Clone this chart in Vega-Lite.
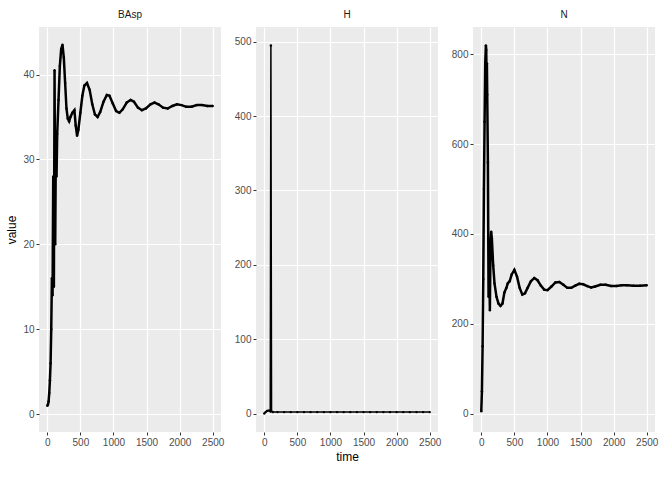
{
  "$schema": "https://vega.github.io/schema/vega-lite/v6.json",
  "padding": {"left": 5, "top": 10, "right": 5, "bottom": 5},
  "datasets": {
    "BAsp": [
      {"t":0,"v":1},{"t":10,"v":1.1},{"t":20,"v":1.5},{"t":30,"v":2.5},{"t":40,"v":4},{"t":50,"v":6},{"t":60,"v":10},{"t":70,"v":16},{"t":80,"v":14},{"t":90,"v":28},{"t":100,"v":15},{"t":110,"v":40.5},{"t":120,"v":20},{"t":130,"v":32},{"t":140,"v":28},{"t":150,"v":33},{"t":170,"v":37},{"t":190,"v":41},{"t":210,"v":43},{"t":230,"v":43.5},{"t":250,"v":42},{"t":270,"v":39},{"t":290,"v":36},{"t":310,"v":34.8},{"t":330,"v":34.5},{"t":350,"v":35},{"t":380,"v":35.5},{"t":410,"v":35.8},{"t":430,"v":34},{"t":450,"v":32.8},{"t":470,"v":33.5},{"t":500,"v":35.5},{"t":530,"v":37.5},{"t":560,"v":38.7},{"t":600,"v":39},{"t":640,"v":38.2},{"t":680,"v":36.5},{"t":720,"v":35.3},{"t":760,"v":35},{"t":800,"v":35.6},{"t":850,"v":36.8},{"t":900,"v":37.6},{"t":940,"v":37.5},{"t":990,"v":36.6},{"t":1040,"v":35.7},{"t":1090,"v":35.5},{"t":1140,"v":35.9},{"t":1200,"v":36.7},{"t":1260,"v":37},{"t":1310,"v":36.8},{"t":1370,"v":36.1},{"t":1430,"v":35.8},{"t":1490,"v":36},{"t":1560,"v":36.5},{"t":1620,"v":36.7},{"t":1680,"v":36.5},{"t":1750,"v":36.1},{"t":1820,"v":36},{"t":1890,"v":36.3},{"t":1960,"v":36.5},{"t":2030,"v":36.4},{"t":2100,"v":36.2},{"t":2180,"v":36.2},{"t":2260,"v":36.4},{"t":2340,"v":36.4},{"t":2420,"v":36.3},{"t":2500,"v":36.3}
    ],
    "H": [
      {"t":0,"v":0},{"t":20,"v":2},{"t":40,"v":3.5},{"t":60,"v":4},{"t":80,"v":4},{"t":90,"v":3},{"t":100,"v":495},{"t":110,"v":3},{"t":130,"v":2},{"t":200,"v":2},{"t":300,"v":2},{"t":400,"v":2},{"t":500,"v":2},{"t":600,"v":2},{"t":700,"v":2},{"t":800,"v":2},{"t":900,"v":2},{"t":1000,"v":2},{"t":1100,"v":2},{"t":1200,"v":2},{"t":1300,"v":2},{"t":1400,"v":2},{"t":1500,"v":2},{"t":1600,"v":2},{"t":1700,"v":2},{"t":1800,"v":2},{"t":1900,"v":2},{"t":2000,"v":2},{"t":2100,"v":2},{"t":2200,"v":2},{"t":2300,"v":2},{"t":2400,"v":2},{"t":2500,"v":2}
    ],
    "N": [
      {"t":0,"v":5},{"t":10,"v":50},{"t":20,"v":150},{"t":30,"v":300},{"t":40,"v":500},{"t":50,"v":650},{"t":60,"v":780},{"t":70,"v":820},{"t":75,"v":810},{"t":80,"v":740},{"t":85,"v":780},{"t":90,"v":710},{"t":100,"v":560},{"t":110,"v":260},{"t":120,"v":330},{"t":130,"v":230},{"t":140,"v":380},{"t":150,"v":405},{"t":160,"v":390},{"t":180,"v":330},{"t":200,"v":290},{"t":230,"v":260},{"t":260,"v":245},{"t":290,"v":240},{"t":320,"v":245},{"t":350,"v":270},{"t":380,"v":280},{"t":400,"v":290},{"t":430,"v":295},{"t":460,"v":310},{"t":500,"v":320},{"t":540,"v":305},{"t":580,"v":280},{"t":620,"v":265},{"t":660,"v":268},{"t":700,"v":280},{"t":750,"v":295},{"t":800,"v":302},{"t":850,"v":297},{"t":900,"v":285},{"t":950,"v":276},{"t":1000,"v":275},{"t":1060,"v":283},{"t":1120,"v":292},{"t":1180,"v":293},{"t":1240,"v":287},{"t":1300,"v":280},{"t":1360,"v":280},{"t":1420,"v":285},{"t":1480,"v":289},{"t":1540,"v":288},{"t":1600,"v":284},{"t":1660,"v":281},{"t":1720,"v":283},{"t":1800,"v":287},{"t":1880,"v":287},{"t":1960,"v":284},{"t":2040,"v":284},{"t":2120,"v":286},{"t":2200,"v":286},{"t":2300,"v":285},{"t":2400,"v":285},{"t":2500,"v":286}
    ]
  },
  "hconcat": [
    {
      "width": 182, "height": 405, "data": {"name": "BAsp"}, "title": "BAsp",
      "encoding": {
        "x": {"field": "t", "type": "quantitative", "title": null, "scale": {"domain": [-125, 2625], "nice": false}, "axis": {"values": [0, 500, 1000, 1500, 2000, 2500], "format": "d"}},
        "y": {"field": "v", "type": "quantitative", "title": "value", "scale": {"domain": [-2.1, 45.6], "nice": false}, "axis": {"values": [0, 10, 20, 30, 40]}}
      },
      "layer": [
        {"mark": {"type": "line", "color": "black", "strokeWidth": 2.5}},
        {"mark": {"type": "point", "filled": true, "color": "black", "size": 6, "opacity": 1}}
      ]
    },
    {
      "width": 182, "height": 405, "data": {"name": "H"}, "title": "H",
      "encoding": {
        "x": {"field": "t", "type": "quantitative", "title": "time", "scale": {"domain": [-125, 2625], "nice": false}, "axis": {"values": [0, 500, 1000, 1500, 2000, 2500], "format": "d"}},
        "y": {"field": "v", "type": "quantitative", "title": null, "scale": {"domain": [-24.75, 519.75], "nice": false}, "axis": {"values": [0, 100, 200, 300, 400, 500]}}
      },
      "layer": [
        {"mark": {"type": "line", "color": "black", "strokeWidth": 1.5}},
        {"mark": {"type": "point", "filled": true, "color": "black", "size": 6, "opacity": 1}}
      ]
    },
    {
      "width": 182, "height": 405, "data": {"name": "N"}, "title": "N",
      "encoding": {
        "x": {"field": "t", "type": "quantitative", "title": null, "scale": {"domain": [-125, 2625], "nice": false}, "axis": {"values": [0, 500, 1000, 1500, 2000, 2500], "format": "d"}},
        "y": {"field": "v", "type": "quantitative", "title": null, "scale": {"domain": [-41, 861], "nice": false}, "axis": {"values": [0, 200, 400, 600, 800]}}
      },
      "layer": [
        {"mark": {"type": "line", "color": "black", "strokeWidth": 2.5}},
        {"mark": {"type": "point", "filled": true, "color": "black", "size": 6, "opacity": 1}}
      ]
    }
  ],
  "spacing": 10,
  "config": {
    "font": "Liberation Sans",
    "view": {"fill": "#EBEBEB", "stroke": null},
    "axis": {"domain": false, "gridColor": "white", "gridWidth": 1.2, "tickColor": "#333333", "tickSize": 3, "labelColor": "#4D4D4D", "labelFontSize": 10, "labelPadding": 2, "titleFontSize": 12, "titleFontWeight": "normal", "titleColor": "black"},
    "title": {"fontSize": 10, "fontWeight": "normal", "color": "#1A1A1A", "offset": 7}
  }
}
